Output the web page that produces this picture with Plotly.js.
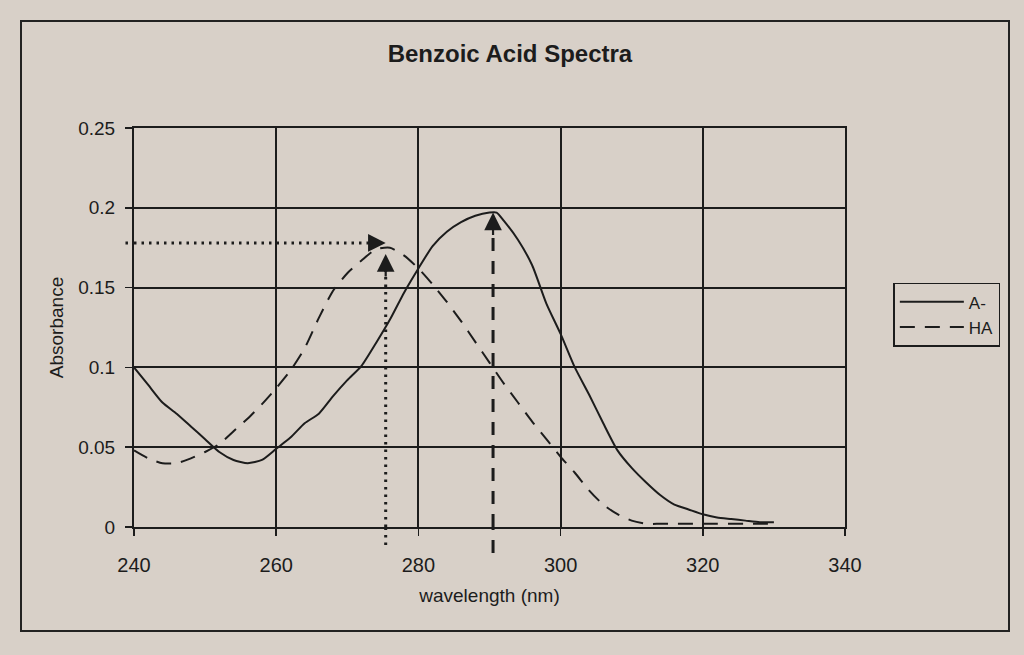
<!DOCTYPE html>
<html>
<head>
<meta charset="utf-8">
<script src="https://cdn.plot.ly/plotly-3.0.1.min.js"></script>
<style>
  html, body { margin: 0; padding: 0; background: #d8d0c8; }
  #wrap { position: relative; width: 1024px; height: 655px; overflow: hidden; }
  #chart { position: absolute; left: 0; top: 0; width: 1024px; height: 655px; }
  #frame { position: absolute; left: 20px; top: 20px; width: 986px; height: 608px;
           border: 2px solid #222; pointer-events: none; }
</style>
</head>
<body>
<div id="wrap">
  <div id="chart"></div>
  <div id="frame"></div>
</div>
<script>
// ---- data ----
const wavelengthA = [240,242,244,246,248,250,252,254,256,258,260,262,264,266,268,270,272,274,276,278,280,282,284,286,288,290,291,292,294,296,298,300,302,304,306,308,310,312,314,316,318,320,322,324,326,328,330];
const absorbanceA = [0.100,0.089,0.078,0.071,0.063,0.055,0.047,0.042,0.040,0.042,0.049,0.056,0.065,0.071,0.082,0.092,0.101,0.115,0.130,0.147,0.162,0.176,0.185,0.191,0.195,0.197,0.197,0.192,0.180,0.164,0.140,0.121,0.100,0.083,0.065,0.048,0.037,0.028,0.020,0.014,0.011,0.008,0.006,0.005,0.004,0.003,0.003];

const wavelengthHA = [240,242,244,246,248,250,252,254,256,258,260,262,264,266,268,270,272,274,276,278,280,282,284,286,288,290,292,294,296,298,300,302,304,306,308,310,312,314,316,318,320,322,324,326,328,330];
const absorbanceHA = [0.048,0.043,0.040,0.040,0.043,0.047,0.052,0.060,0.068,0.077,0.087,0.098,0.112,0.131,0.148,0.159,0.167,0.174,0.175,0.170,0.162,0.152,0.141,0.129,0.116,0.103,0.090,0.078,0.066,0.055,0.044,0.034,0.023,0.014,0.008,0.004,0.002,0.002,0.002,0.002,0.002,0.002,0.002,0.002,0.002,0.002];

const seriesNames = ['A-', 'HA'];

// arrows: lambda max of HA (dotted) and A- (dashed)
const haMaxWavelength = 275.4;
const haMaxAbsorbance = 0.176;
const aMaxWavelength = 290.5;
const aMaxAbsorbance = 0.197;

const xTicks = [240, 260, 280, 300, 320, 340];
const yTicks = [0, 0.05, 0.1, 0.15, 0.2, 0.25];
const yTickText = ['0', '0.05', '0.1', '0.15', '0.2', '0.25'];

// ---- chart ----
const ink = '#1c1c1c';
const bg = '#d8d0c8';
const font = 'Liberation Sans, Arial, sans-serif';

const traces = [
  { x: wavelengthA, y: absorbanceA, name: seriesNames[0], mode: 'lines',
    line: { color: ink, width: 2, shape: 'spline', smoothing: 0.6 } },
  { x: wavelengthHA, y: absorbanceHA, name: seriesNames[1], mode: 'lines',
    line: { color: ink, width: 2, dash: '15px,10px', shape: 'spline', smoothing: 0.6 } },
  // horizontal dotted guide to HA maximum
  { x: [xTicks[0], haMaxWavelength - 1.5], y: [haMaxAbsorbance + 0.002, haMaxAbsorbance + 0.002],
    mode: 'lines', showlegend: false, hoverinfo: 'skip',
    line: { color: ink, width: 3, dash: '2.5px,5px' } },
  // vertical dotted guide at HA maximum
  { x: [haMaxWavelength, haMaxWavelength], y: [0, haMaxAbsorbance - 0.01],
    mode: 'lines', showlegend: false, hoverinfo: 'skip',
    line: { color: ink, width: 3, dash: '2.5px,5px' } },
  // vertical dashed guide at A- maximum
  { x: [aMaxWavelength, aMaxWavelength], y: [0, aMaxAbsorbance - 0.01],
    mode: 'lines', showlegend: false, hoverinfo: 'skip',
    line: { color: ink, width: 3, dash: '13px,10px' } }
];

const layout = {
  width: 1024, height: 655,
  paper_bgcolor: bg, plot_bgcolor: bg,
  margin: { l: 134, r: 179, t: 128, b: 128 },
  font: { family: font, color: ink },
  title: { text: '<b>Benzoic Acid Spectra</b>', font: { size: 24, family: font, color: ink },
           x: 0.498, xref: 'container', y: 0.918, yref: 'container', yanchor: 'middle' },
  showlegend: true,
  legend: { x: 1.068, xanchor: 'left', y: 0.612, yanchor: 'top',
            bgcolor: bg, bordercolor: ink, borderwidth: 1.5,
            font: { size: 17, family: font, color: ink },
            itemwidth: 64, tracegroupgap: 6 },
  xaxis: {
    range: [240, 340], tickvals: xTicks, ticktext: xTicks.map(String),
    showgrid: true, gridcolor: ink, gridwidth: 2,
    showline: true, linecolor: ink, linewidth: 2, mirror: true,
    ticks: 'outside', ticklen: 7, tickwidth: 1.5, tickcolor: ink,
    ticklabelstandoff: 12,
    tickfont: { size: 20, family: font, color: ink },
    zeroline: false,
    title: { text: 'wavelength (nm)', font: { size: 19, family: font, color: ink }, standoff: 14 }
  },
  yaxis: {
    range: [0, 0.25], tickvals: yTicks, ticktext: yTickText,
    showgrid: true, gridcolor: ink, gridwidth: 2,
    showline: true, linecolor: ink, linewidth: 2, mirror: true,
    ticks: 'outside', ticklen: 7, tickwidth: 1.5, tickcolor: ink,
    ticklabelstandoff: 6,
    tickfont: { size: 19, family: font, color: ink },
    zeroline: false,
    title: { text: 'Absorbance', font: { size: 19, family: font, color: ink }, standoff: 10 }
  },
  shapes: [
    // extensions of the guides below the x axis
    { type: 'line', xref: 'x', yref: 'paper', x0: haMaxWavelength, x1: haMaxWavelength, y0: -0.045, y1: 0,
      line: { color: ink, width: 3, dash: '2.5px,5px' } },
    { type: 'line', xref: 'x', yref: 'paper', x0: aMaxWavelength, x1: aMaxWavelength, y0: -0.065, y1: 0,
      line: { color: ink, width: 3, dash: '13px,10px' } },
    { type: 'line', xref: 'paper', yref: 'y', x0: -0.012, x1: 0, y0: haMaxAbsorbance + 0.002, y1: haMaxAbsorbance + 0.002,
      line: { color: ink, width: 3, dash: '2.5px,5px' } }
  ],
  annotations: [
    { x: haMaxWavelength, y: haMaxAbsorbance + 0.002, ax: haMaxWavelength - 2, ay: haMaxAbsorbance + 0.002,
      xref: 'x', yref: 'y', axref: 'x', ayref: 'y', text: '', showarrow: true,
      arrowhead: 2, arrowsize: 1.6, arrowwidth: 2.2, arrowcolor: ink, standoff: 0 },
    { x: haMaxWavelength, y: haMaxAbsorbance - 0.005, ax: haMaxWavelength, ay: haMaxAbsorbance - 0.02,
      xref: 'x', yref: 'y', axref: 'x', ayref: 'y', text: '', showarrow: true,
      arrowhead: 2, arrowsize: 1.6, arrowwidth: 2.2, arrowcolor: ink, standoff: 0 },
    { x: aMaxWavelength, y: aMaxAbsorbance, ax: aMaxWavelength, ay: aMaxAbsorbance - 0.015,
      xref: 'x', yref: 'y', axref: 'x', ayref: 'y', text: '', showarrow: true,
      arrowhead: 2, arrowsize: 1.6, arrowwidth: 2.2, arrowcolor: ink, standoff: 0 }
  ]
};

Plotly.newPlot('chart', traces, layout, { staticPlot: true, displayModeBar: false });
</script>
</body>
</html>
